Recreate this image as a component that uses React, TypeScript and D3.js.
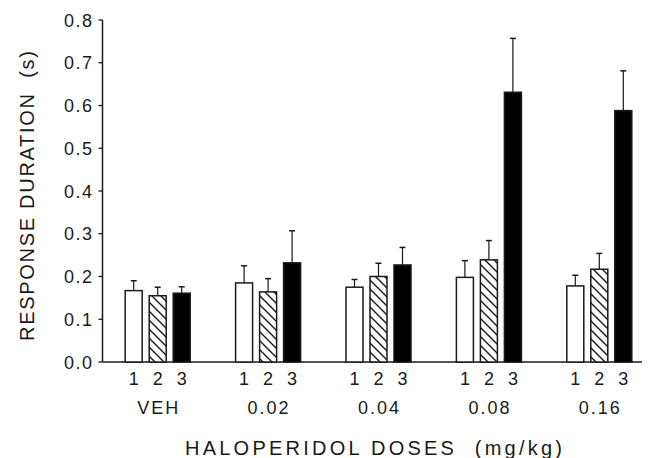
import * as d3 from 'd3';

const groups = ['VEH', '0.02', '0.04', '0.08', '0.16'];
const phases = ['1', '2', '3'];
const means = [
    [0.167, 0.185, 0.175, 0.198, 0.178],
    [0.155, 0.164, 0.2, 0.239, 0.217],
    [0.161, 0.232, 0.227, 0.631, 0.588],
];
const sems = [
    [0.023, 0.04, 0.018, 0.039, 0.025],
    [0.02, 0.031, 0.031, 0.045, 0.037],
    [0.015, 0.075, 0.041, 0.126, 0.093],
];
const yTicks = [0, 0.1, 0.2, 0.3, 0.4, 0.5, 0.6, 0.7, 0.8];

const fills = ['#fff', 'url(#hatch)', '#000'];
const font = '"Liberation Sans", Arial, sans-serif';
const ink = '#1a1a1a';

export default function App() {
    const width = 652;
    const height = 458;
    const axisX = 102.5;
    const baseY = 362;

    const x0 = d3.scaleBand().domain(groups).range([axisX, axisX + 110.4 * 5]);
    const x1 = d3.scalePoint().domain(phases).range([-24, 24]);
    const y = d3.scaleLinear().domain([0, 0.8]).range([baseY, 20]);
    const barW = 17;

    const cx = (g: string, p: string) => (x0(g) as number) + x0.bandwidth() / 2 + (x1(p) as number);

    return (
        <svg width={width} height={height} style={{ position: 'absolute', left: 0, top: 0, background: '#fff' }}>
            <defs>
                <pattern id="hatch" patternUnits="userSpaceOnUse" width="9" height="9">
                    <rect width="9" height="9" fill="#fff" />
                    <path d="M-2,-2 L11,11 M-2,7 L2,11 M7,-2 L11,2" stroke={ink} strokeWidth="1.4" />
                </pattern>
            </defs>

            {/* axes */}
            <line x1={axisX} x2={axisX} y1={y(0.8)} y2={baseY} stroke={ink} strokeWidth={1.5} />
            <line x1={axisX} x2={642} y1={baseY} y2={baseY} stroke={ink} strokeWidth={1.5} />
            {yTicks.map((t) => (
                <g key={t}>
                    <line x1={axisX - 4} x2={axisX} y1={y(t)} y2={y(t)} stroke={ink} strokeWidth={1.3} />
                    <text
                        x={92}
                        y={y(t) + 6.5}
                        textAnchor="end"
                        fontFamily={font}
                        fontSize={18}
                        letterSpacing={1.5}
                        dx={1.5}
                        fill={ink}
                    >
                        {t.toFixed(1)}
                    </text>
                </g>
            ))}

            {/* bars */}
            {phases.map((p, pi) =>
                groups.map((g, gi) => {
                    const c = cx(g, p);
                    const top = y(means[pi][gi]);
                    const errTop = y(means[pi][gi] + sems[pi][gi]);
                    return (
                        <g key={p + g}>
                            <line x1={c} x2={c} y1={top} y2={errTop} stroke={ink} strokeWidth={1.2} />
                            <line x1={c - 3} x2={c + 3} y1={errTop} y2={errTop} stroke={ink} strokeWidth={1.5} />
                            <rect
                                x={c - barW / 2}
                                y={top}
                                width={barW}
                                height={baseY - top}
                                fill={fills[pi]}
                                stroke={ink}
                                strokeWidth={1.5}
                            />
                        </g>
                    );
                })
            )}

            {/* x labels */}
            {groups.map((g) => (
                <g key={g}>
                    {phases.map((p) => (
                        <text
                            key={p}
                            x={cx(g, p)}
                            y={385}
                            textAnchor="middle"
                            fontFamily={font}
                            fontSize={18}
                            fill={ink}
                        >
                            {p}
                        </text>
                    ))}
                    <text
                        x={(x0(g) as number) + x0.bandwidth() / 2}
                        y={414}
                        textAnchor="middle"
                        fontFamily={font}
                        fontSize={18}
                        letterSpacing={2}
                        dx={1}
                        fill={ink}
                    >
                        {g}
                    </text>
                </g>
            ))}

            <text
                x={185}
                y={455}
                fontFamily={font}
                fontSize={20}
                textLength={377}
                lengthAdjust="spacing"
                fill={ink}
                style={{ whiteSpace: 'pre' }}
            >
                {'HALOPERIDOL DOSES  (mg/kg)'}
            </text>
            <text
                transform="translate(34,341) rotate(-90)"
                x={0}
                y={0}
                fontFamily={font}
                fontSize={20}
                textLength={290}
                lengthAdjust="spacing"
                fill={ink}
                style={{ whiteSpace: 'pre' }}
            >
                {'RESPONSE DURATION  (s)'}
            </text>
        </svg>
    );
}
